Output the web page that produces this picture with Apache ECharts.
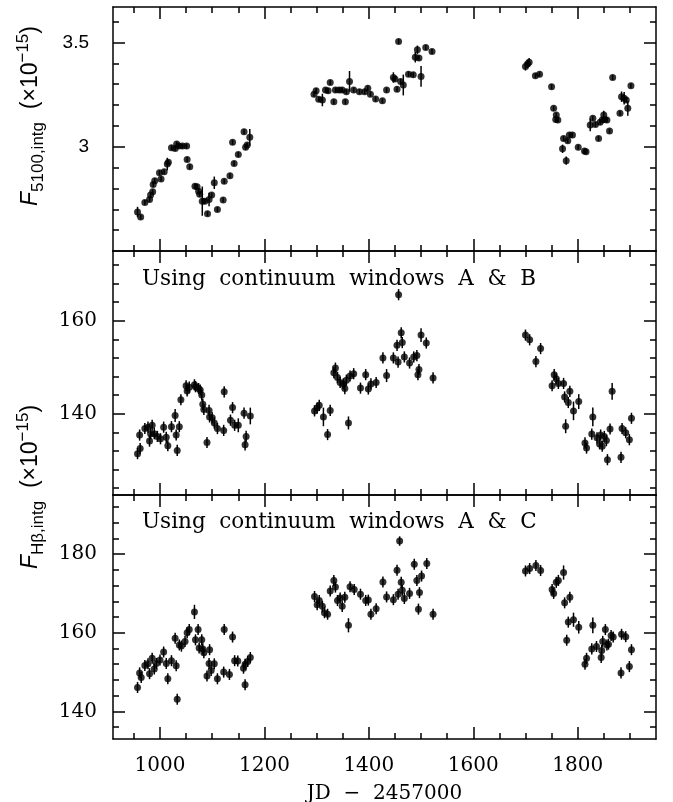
<!DOCTYPE html>
<html><head><meta charset="utf-8">
<script src="https://cdn.jsdelivr.net/npm/echarts@6/dist/echarts.min.js"></script>
<style>html,body{margin:0;padding:0;background:#fff}#c{width:673px;height:802px}</style>
</head><body><div id="c"></div>
<script>
// ---------- Panel 1: F5100,intg (x1e-15) ----------
const jd1 = [957,963,971,980,982,986,987,990,999,1002,1008,1014,1016,1022,1029,1032,1036,1043,1051,1052,1057,1067,1071,1074,1076,1081,1086,1091,1094,1099,1104,1110,1121,1123,1134,1139,1142,1150,1161,1164,1167,1172,
  1295,1299,1304,1311,1317,1322,1326,1333,1336,1343,1349,1355,1357,1363,1371,1382,1392,1398,1403,1413,1426,1434,1447,1450,1454,1457,1461,1466,1476,1485,1489,1493,1496,1500,1509,1521,
  1700,1704,1707,1719,1727,1750,1754,1758,1759,1762,1771,1773,1778,1781,1784,1790,1801,1813,1816,1824,1829,1834,1840,1843,1847,1850,1852,1856,1861,1867,1881,1884,1889,1893,1896,1902];
const flux5100 = [2.687,2.663,2.732,2.747,2.768,2.784,2.819,2.837,2.875,2.845,2.880,2.917,2.926,2.995,2.992,3.013,3.003,3.003,3.003,2.939,2.904,2.811,2.808,2.787,2.772,2.739,2.739,2.679,2.747,2.768,2.827,2.699,2.744,2.835,2.861,3.021,2.920,2.963,3.072,2.997,3.008,3.045,
  3.252,3.269,3.228,3.224,3.272,3.269,3.308,3.216,3.272,3.272,3.272,3.216,3.264,3.313,3.272,3.264,3.264,3.280,3.252,3.229,3.220,3.272,3.332,3.325,3.276,3.505,3.313,3.296,3.348,3.345,3.429,3.465,3.425,3.337,3.476,3.457,
  3.385,3.397,3.405,3.340,3.348,3.288,3.184,3.131,3.152,3.128,2.990,3.040,2.933,3.029,3.056,3.056,2.997,2.979,2.976,3.104,3.136,3.107,3.040,3.117,3.128,3.152,3.131,3.128,3.075,3.332,3.160,3.240,3.232,3.224,3.184,3.292];
const err5100Typical = 0.012;
const err5100Large = [[957,0.025],[1014,0.03],[1081,0.07],[1094,0.032],[1104,0.03],[1172,0.04],[1311,0.03],[1363,0.05],[1447,0.025],[1466,0.05],[1489,0.025],[1493,0.02],[1500,0.05],[1700,0.02],[1704,0.02],[1707,0.02],[1771,0.02],[1778,0.02],[1824,0.03],[1850,0.02],[1884,0.025],[1889,0.03],[1896,0.035]];

// ---------- Panel 2: FHb,intg, continuum windows A & B ----------
const jd2 = [957,962,961,971,977,985,982,980,989,995,1001,1007,1012,1015,1022,1029,1031,1033,1037,1040,1050,1052,1056,1066,1068,1074,1077,1080,1082,1084,1094,1095,1090,1100,1104,1110,1122,1123,1135,1139,1143,1150,1161,1165,1163,1173,
  1296,1301,1305,1313,1321,1326,1333,1336,1340,1345,1351,1354,1357,1361,1364,1371,1384,1394,1399,1404,1414,1427,1434,1447,1454,1457,1456,1462,1464,1468,1478,1486,1492,1496,1494,1500,1510,1523,
  1700,1708,1729,1720,1751,1755,1759,1763,1773,1775,1785,1782,1777,1792,1802,1814,1817,1829,1827,1837,1844,1842,1847,1851,1855,1857,1862,1866,1883,1885,1892,1899,1903];
const fluxHbAB = [131.4,132.5,135.4,136.8,137.1,137.5,135.7,134.1,135.7,135.1,134.6,137.1,134.9,133.1,137.2,139.6,135.4,132.1,137.2,143.0,146.0,144.9,145.7,146.2,145.8,145.4,145.1,144.0,142.0,140.9,140.7,139.3,133.8,139.1,138.0,136.8,136.4,144.7,138.6,141.3,137.5,137.5,140.1,135.1,133.3,139.5,
  140.6,141.2,141.8,139.3,135.5,140.7,148.8,149.8,147.8,146.7,146.4,145.4,147.2,138.0,148.1,148.6,145.5,148.4,145.3,146.4,146.7,152.0,148.2,152.0,154.7,165.6,151.1,157.4,155.3,152.2,150.9,152.2,152.5,149.5,148.4,156.9,155.2,147.7,
  156.9,155.9,154.0,151.2,146.0,148.4,147.5,146.5,146.5,143.6,144.8,142.4,137.3,140.6,142.6,133.7,132.6,139.3,135.6,134.8,135.4,133.5,133.0,135.1,134.2,130.1,136.7,144.8,130.6,136.8,135.9,134.4,139.0];
const errABTypical = 1.2;
const errABLarge = [[1029,1.4],[1150,1.5],[1173,1.8],[1313,2.0],[1361,1.4],[1434,1.4],[1500,1.5],[1777,1.5],[1792,2.0],[1802,1.6],[1829,2.0],[1866,1.8]];

// ---------- Panel 3: FHb,intg, continuum windows A & C ----------
const jd3 = [957,961,964,971,977,980,985,989,993,1000,1007,1012,1015,1022,1029,1031,1033,1037,1041,1048,1052,1056,1066,1068,1073,1075,1080,1082,1084,1095,1094,1098,1104,1090,1110,1122,1123,1133,1139,1143,1149,1160,1163,1163,1168,1173,
  1296,1301,1305,1311,1315,1321,1326,1333,1336,1340,1345,1349,1354,1361,1364,1372,1384,1394,1399,1404,1414,1427,1434,1447,1454,1459,1456,1462,1464,1468,1478,1487,1492,1495,1497,1501,1511,1523,
  1700,1708,1720,1729,1751,1754,1759,1763,1773,1775,1785,1782,1779,1792,1802,1814,1817,1829,1827,1836,1845,1846,1848,1853,1856,1859,1864,1868,1883,1884,1892,1899,1903];
const fluxHbAC = [146.1,149.8,148.6,151.7,152.1,149.6,153.5,150.8,152.2,153.1,155.1,152.2,148.3,152.9,158.6,151.6,143.1,156.9,156.6,157.8,160.0,160.8,165.3,158.2,160.8,156.1,158.2,155.9,154.9,155.7,152.2,150.4,152.1,149.0,148.3,150.0,160.8,149.4,158.9,152.9,152.8,151.0,152.0,146.8,152.7,153.7,
  169.2,167.1,168.2,166.7,165.1,164.7,170.6,173.3,171.6,168.2,168.8,166.7,169.0,161.9,171.7,171.0,169.8,168.2,168.3,164.7,166.1,172.9,169.1,168.4,175.9,183.3,169.8,172.8,170.8,168.7,170.0,177.4,173.3,166.0,170.2,174.4,177.6,164.7,
  175.7,176.3,177.1,175.8,171.0,170.0,172.8,173.3,175.3,167.6,169.0,162.7,158.1,163.3,161.4,152.0,153.5,161.9,155.9,156.5,153.7,155.5,157.8,160.8,156.9,157.1,159.3,158.9,149.8,159.6,159.0,151.4,155.7];
const errACTypical = 1.4;
const errACLarge = [[1066,1.8],[1361,1.8],[1459,1.2],[1773,1.8],[1792,1.8],[1802,1.6],[1829,2.0]];

// ---------- Axis ticks / labels ----------
const xRange = [910, 1950];
const xMajorTicks = [1000,1200,1400,1600,1800];
const xMinorTicks = [950,1050,1100,1150,1250,1300,1350,1450,1500,1550,1650,1700,1750,1850,1900];
const y1Range = [2.5, 3.67];
const y1MajorTicks = [3.0, 3.5];
const y1MinorTicks = [2.6,2.7,2.8,2.9,3.1,3.2,3.3,3.4,3.6];
const y2Range = [122.5, 175];
const y2MajorTicks = [140, 160];
const y2MinorTicks = [124,128,132,136,144,148,152,156,164,168,172];
const y3Range = [133, 195];
const y3MajorTicks = [140, 160, 180];
const y3MinorTicks = [136,144,148,152,156,164,168,172,176,184,188,192];

const SERIF = "'DejaVu Serif', serif";
const SANS = "'Liberation Sans', Arial, sans-serif";

function withErr(xs, ys, typical, large) {
  const m = new Map(large.map(d => [d[0], d[1]]));
  return xs.map((x, i) => [x, ys[i], m.has(x) ? m.get(x) : typical]);
}

const panels = [
  {x: jd1, y: flux5100, typ: err5100Typical, big: err5100Large, range: y1Range, maj: y1MajorTicks, min: y1MinorTicks, labFont: SANS, labSize: 19, labMargin: 24},
  {x: jd2, y: fluxHbAB, typ: errABTypical, big: errABLarge, range: y2Range, maj: y2MajorTicks, min: y2MinorTicks, labFont: SERIF, labSize: 20, labMargin: 16},
  {x: jd3, y: fluxHbAC, typ: errACTypical, big: errACLarge, range: y3Range, maj: y3MajorTicks, min: y3MinorTicks, labFont: SERIF, labSize: 20, labMargin: 16}
];

const L = 113, R = 656, T = 7, H = 244;
const lineStyle = {color: '#000', width: 1.5};
const grids = [], xAxes = [], yAxes = [], series = [];
const plain = v => String(v);

panels.forEach((p, g) => {
  grids.push({left: L, width: R - L, top: T + g * H, height: H});
  ['bottom', 'top'].forEach(pos => {
    xAxes.push({type: 'value', gridIndex: g, position: pos, min: xRange[0], max: xRange[1],
      axisLine: {show: true, onZero: false, lineStyle},
      axisTick: {show: true, inside: true, length: 12, customValues: xMajorTicks, lineStyle},
      axisLabel: {show: g === 2 && pos === 'bottom', customValues: xMajorTicks, formatter: plain, color: '#000',
        fontFamily: SERIF, fontSize: 20, margin: 17},
      splitLine: {show: false}});
    xAxes.push({type: 'value', gridIndex: g, position: pos, min: xRange[0], max: xRange[1],
      axisLine: {show: false},
      axisTick: {show: true, inside: true, length: 6, customValues: xMinorTicks, lineStyle},
      axisLabel: {show: false}, splitLine: {show: false}});
  });
  ['left', 'right'].forEach(pos => {
    yAxes.push({type: 'value', gridIndex: g, position: pos, min: p.range[0], max: p.range[1],
      axisLine: {show: true, onZero: false, lineStyle},
      axisTick: {show: true, inside: true, length: 12, customValues: p.maj, lineStyle},
      axisLabel: {show: pos === 'left', customValues: p.maj, formatter: plain, color: '#000',
        fontFamily: p.labFont, fontSize: p.labSize, margin: p.labMargin},
      splitLine: {show: false}});
    yAxes.push({type: 'value', gridIndex: g, position: pos, min: p.range[0], max: p.range[1],
      axisLine: {show: false},
      axisTick: {show: true, inside: true, length: 6, customValues: p.min, lineStyle},
      axisLabel: {show: false}, splitLine: {show: false}});
  });
  const data = withErr(p.x, p.y, p.typ, p.big);
  series.push({type: 'custom', xAxisIndex: 4 * g, yAxisIndex: 4 * g, data, encode: {x: 0, y: 1},
    silent: true, animation: false, z: 2,
    renderItem: (params, api) => {
      const x = api.value(0), y = api.value(1), e = api.value(2);
      const a = api.coord([x, y - e]), b = api.coord([x, y + e]);
      return {type: 'line', shape: {x1: a[0], y1: a[1], x2: b[0], y2: b[1]}, style: {stroke: '#000', lineWidth: 1.5}};
    }});
  series.push({type: 'scatter', xAxisIndex: 4 * g, yAxisIndex: 4 * g, data: data.map(d => [d[0], d[1]]),
    symbol: 'circle', symbolSize: 7, itemStyle: {color: '#000'}, silent: true, animation: false, z: 3});
});

const richY = {
  i: {fontFamily: SANS, fontStyle: 'italic', fontSize: 23, lineHeight: 32, verticalAlign: 'middle', fill: '#000'},
  s: {fontFamily: SANS, fontSize: 17, lineHeight: 17, verticalAlign: 'bottom', fill: '#000'},
  n: {fontFamily: SANS, fontSize: 23, lineHeight: 32, verticalAlign: 'middle', fill: '#000'},
  p: {fontFamily: SANS, fontSize: 17, lineHeight: 17, verticalAlign: 'top', fill: '#000'}
};

const graphic = [
  {type: 'text', x: 31, y: 116, rotation: Math.PI / 2,
    style: {text: '{i|F}{s|5100,intg}{n|  (×10}{p|−15}{n|)}', rich: richY, align: 'center', verticalAlign: 'middle', fontSize: 23, fontFamily: SANS}},
  {type: 'text', x: 31, y: 487, rotation: Math.PI / 2,
    style: {text: '{i|F}{s|Hβ,intg}{n|  (×10}{p|−15}{n|)}', rich: richY, align: 'center', verticalAlign: 'middle', fontSize: 23, fontFamily: SANS}},
  {type: 'text', x: 142, y: 279,
    style: {text: 'Using  continuum  windows  A  &  B', fontFamily: SERIF, fontSize: 21.5, fill: '#000', align: 'left', verticalAlign: 'middle'}},
  {type: 'text', x: 142, y: 522,
    style: {text: 'Using  continuum  windows  A  &  C', fontFamily: SERIF, fontSize: 21.5, fill: '#000', align: 'left', verticalAlign: 'middle'}},
  {type: 'text', x: 384.5, y: 794,
    style: {text: 'JD  −  2457000', fontFamily: SERIF, fontSize: 20, fill: '#000', align: 'center', verticalAlign: 'middle'}}
];

const chart = echarts.init(document.getElementById('c'), null, {renderer: 'canvas'});
chart.setOption({animation: false, backgroundColor: '#fff', grid: grids, xAxis: xAxes, yAxis: yAxes, series, graphic});
</script></body></html>
